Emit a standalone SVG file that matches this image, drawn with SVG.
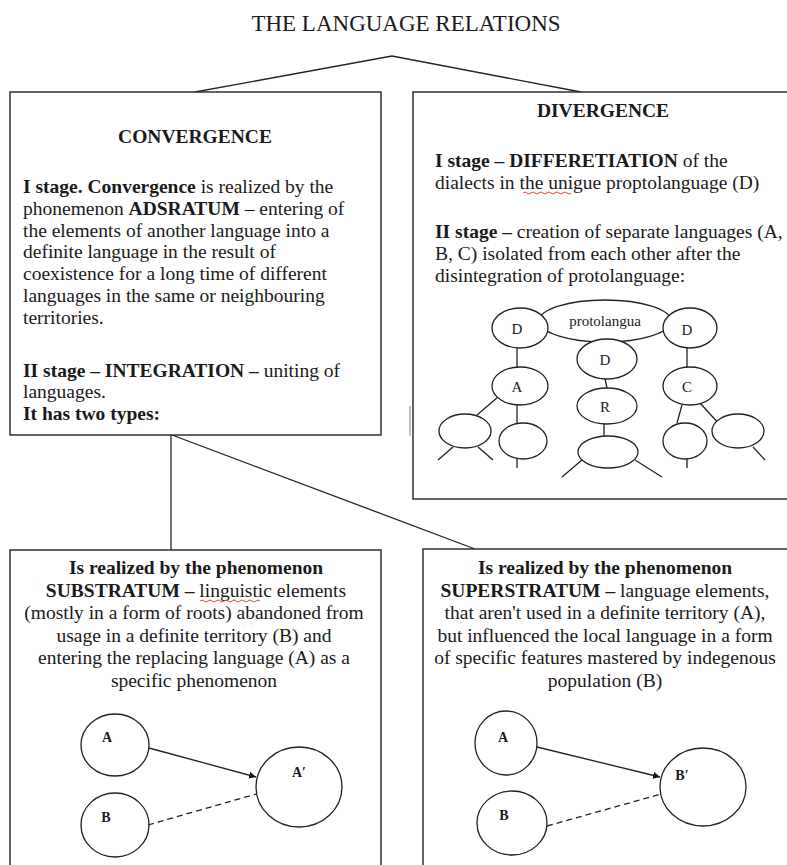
<svg xmlns="http://www.w3.org/2000/svg" width="787" height="865" viewBox="0 0 787 865">
<style>
text{font-family:"Liberation Serif","Times New Roman",serif;fill:#1a1a1a;font-size:19.5px}
.b{font-weight:bold}
.c{text-anchor:middle}
.box{fill:#fff;stroke:#222;stroke-width:1.4}
.ln{fill:none;stroke:#222;stroke-width:1.3}
.el{fill:#fff;stroke:#222;stroke-width:1.3}
.sm{font-size:15px}
.lab{font-size:14px;font-weight:bold}
.sq{fill:none;stroke:#d33;stroke-width:0.9}
</style>
<defs>
<marker id="ah" viewBox="0 0 10 10" refX="10" refY="5" markerWidth="7" markerHeight="7" orient="auto" markerUnits="userSpaceOnUse">
<path d="M0,0 L10,5 L0,10 z" fill="#111"/>
</marker>
</defs>
<rect width="787" height="865" fill="#fff"/>
<text x="406" y="31" class="c" style="font-size:23px">THE LANGUAGE RELATIONS</text>

<g id="connectors">
<polyline class="ln" points="195,92 392,56 581,92"/>
<line class="ln" x1="171" y1="435" x2="171" y2="550"/>
<line class="ln" x1="172" y1="435" x2="475" y2="549"/>
<line x1="410" y1="406" x2="410" y2="436" stroke="#999" stroke-width="1.2"/>
</g>

<g id="convergence">
<rect class="box" x="10" y="92" width="371" height="343"/>
<text x="195" y="143" class="c b">CONVERGENCE</text>
<text x="23" y="193"><tspan class="b">I stage. Convergence</tspan> is realized by the</text>
<text x="23" y="215">phonemenon <tspan class="b">ADSRATUM</tspan> – entering of</text>
<text x="23" y="237">the elements of another language into a</text>
<text x="23" y="258">definite language in the result of</text>
<text x="23" y="280">coexistence for a long time of different</text>
<text x="23" y="302">languages in the same or neighbouring</text>
<text x="23" y="324">territories.</text>
<text x="23" y="377"><tspan class="b">II stage – INTEGRATION –</tspan> uniting of</text>
<text x="23" y="398">languages.</text>
<text x="23" y="420" class="b">It has two types:</text>
</g>

<g id="divergence">
<rect class="box" x="413" y="92" width="400" height="407"/>
<text x="603" y="117" class="c b">DIVERGENCE</text>
<text x="435" y="167"><tspan class="b">I stage – DIFFERETIATION</tspan> of the</text>
<text x="435" y="189">dialects in the unigue proptolanguage (D)</text>
<path class="sq" d="M523,193 q2,-2 4,0 t4,0 t4,0 t4,0 t4,0 t4,0 t4,0 t4,0 t4,0 t4,0 t4,0 t4,0"/>
<text x="435" y="238"><tspan class="b">II stage –</tspan> creation of separate languages  (A,</text>
<text x="435" y="260">B, C) isolated from each other after the</text>
<text x="435" y="282">disintegration of protolanguage:</text>
</g>

<g id="tree">
<ellipse class="el" cx="605" cy="321" rx="66" ry="21"/>
<text x="605" y="326" class="c sm">protolangua</text>
<line class="ln" x1="517" y1="348" x2="517" y2="368"/>
<line class="ln" x1="687" y1="348" x2="687" y2="368"/>
<line class="ln" x1="605" y1="379" x2="607" y2="388"/>
<line class="ln" x1="604" y1="424" x2="604" y2="437"/>
<line class="ln" x1="498" y1="397" x2="477" y2="415"/>
<line class="ln" x1="517" y1="405" x2="517" y2="423"/>
<line class="ln" x1="682" y1="405" x2="677" y2="423"/>
<line class="ln" x1="700" y1="403" x2="720" y2="425"/>
<line class="ln" x1="453" y1="447" x2="438" y2="460"/>
<line class="ln" x1="478" y1="447" x2="493" y2="460"/>
<line class="ln" x1="517" y1="458" x2="517" y2="468"/>
<line class="ln" x1="582" y1="460" x2="562" y2="477"/>
<line class="ln" x1="635" y1="460" x2="662" y2="477"/>
<line class="ln" x1="687" y1="458" x2="687" y2="468"/>
<line class="ln" x1="753" y1="447" x2="765" y2="460"/>
<ellipse class="el" cx="520" cy="328" rx="28" ry="20"/>
<text x="517" y="334" class="c sm">D</text>
<ellipse class="el" cx="690" cy="328" rx="27" ry="20"/>
<text x="687" y="335" class="c sm">D</text>
<ellipse class="el" cx="607" cy="359" rx="30" ry="20"/>
<text x="605" y="365" class="c sm">D</text>
<ellipse class="el" cx="520" cy="386" rx="28" ry="19"/>
<text x="517" y="392" class="c sm">A</text>
<ellipse class="el" cx="607" cy="406" rx="30" ry="18"/>
<text x="605" y="412" class="c sm">R</text>
<ellipse class="el" cx="690" cy="386" rx="27" ry="19"/>
<text x="687" y="392" class="c sm">C</text>
<ellipse class="el" cx="465" cy="431" rx="26" ry="17"/>
<ellipse class="el" cx="523" cy="441" rx="24" ry="18"/>
<ellipse class="el" cx="608" cy="452" rx="30" ry="16"/>
<ellipse class="el" cx="685" cy="441" rx="22" ry="18"/>
<ellipse class="el" cx="738" cy="431" rx="26" ry="17"/>
</g>

<g id="substratum">
<rect class="box" x="10" y="550" width="371" height="330"/>
<text x="196" y="574" class="c b">Is realized by the phenomenon</text>
<text x="196" y="597" class="c"><tspan class="b">SUBSTRATUM –</tspan> linguistic elements</text>
<path class="sq" d="M200,601 q2,-2 4,0 t4,0 t4,0 t4,0 t4,0 t4,0 t4,0 t4,0 t4,0 t4,0 t4,0 t4,0 t4,0 t4,0 t4,0"/>
<text x="194" y="619" class="c">(mostly in a form of roots) abandoned from</text>
<text x="194" y="642" class="c">usage in a definite territory (B) and</text>
<text x="194" y="664" class="c">entering the replacing language (A) as a</text>
<text x="194" y="687" class="c">specific phenomenon</text>
<ellipse class="el" cx="115" cy="745" rx="34" ry="31"/>
<text x="107" y="742" class="lab c">A</text>
<ellipse class="el" cx="115" cy="825" rx="34" ry="32"/>
<text x="106" y="822" class="lab c">B</text>
<ellipse class="el" cx="299" cy="787" rx="43" ry="40"/>
<text x="299" y="777" class="lab c">A′</text>
<line class="ln" x1="149" y1="748" x2="256" y2="777" marker-end="url(#ah)"/>
<line class="ln" x1="148" y1="825" x2="256" y2="794" stroke-dasharray="6,4"/>
</g>

<g id="superstratum">
<rect class="box" x="423" y="549" width="400" height="330"/>
<text x="605" y="574" class="c b">Is realized by the phenomenon</text>
<text x="605" y="597" class="c"><tspan class="b">SUPERSTRATUM –</tspan> language elements,</text>
<text x="605" y="619" class="c">that aren't used in a definite territory (A),</text>
<text x="605" y="642" class="c">but influenced the local language in a form</text>
<text x="605" y="664" class="c">of specific features mastered by indegenous</text>
<text x="605" y="687" class="c">population (B)</text>
<ellipse class="el" cx="506" cy="743" rx="31" ry="32"/>
<text x="503" y="742" class="lab c">A</text>
<ellipse class="el" cx="512" cy="823" rx="35" ry="32"/>
<text x="504" y="820" class="lab c">B</text>
<ellipse class="el" cx="703" cy="787" rx="43" ry="39"/>
<text x="682" y="780" class="lab c">B′</text>
<line class="ln" x1="537" y1="747" x2="660" y2="777" marker-end="url(#ah)"/>
<line class="ln" x1="547" y1="826" x2="661" y2="794" stroke-dasharray="6,4"/>
</g>
</svg>
